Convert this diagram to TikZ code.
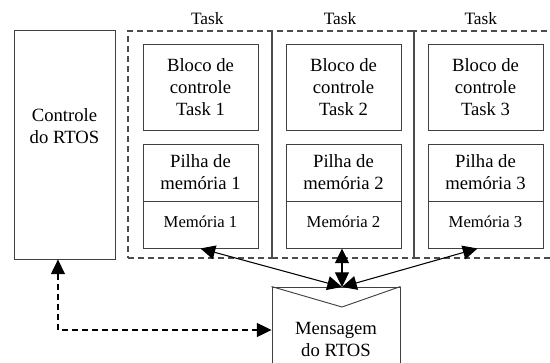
\documentclass[tikz,border=0pt]{standalone}
\usepackage{fontspec}
\setmainfont{LiberationSerif}[Extension=.ttf, UprightFont=*-Regular, BoldFont=*-Bold]
\usetikzlibrary{arrows.meta,calc,positioning}

\tikzset{
  box/.style={draw=black!75, line width=0.7pt, inner sep=0pt, align=center,
    font=\fontsize{14}{16.5}\selectfont},
  taskbox/.style={draw=black!70, dash pattern=on 4.5pt off 3pt, line width=0.8pt,
    minimum height=170.25pt},
  tasklbl/.style={font=\fontsize{13}{15}\selectfont, inner sep=1pt},
  memtxt/.style={font=\fontsize{12.5}{15}\selectfont, text height=9pt, text depth=5pt},
  link/.style={line width=0.8pt, {Triangle[length=11pt,width=10.5pt]}-{Triangle[length=11pt,width=10.5pt]}},
  dlink/.style={link, dash pattern=on 4.5pt off 3pt},
}

\begin{document}
\begin{tikzpicture}[x=0.75pt, y=-0.75pt]
		\path[use as bounding box, clip] (0,0) rectangle (550,362);
		% controle do RTOS
		\node[box, minimum width=75.75pt, minimum height=171.75pt] (ctrl) at (64.5,144.5) {};
		\node[align=center, font=\fontsize{14}{16.5}\selectfont] (ctrltxt) at (64.5,126) {Controle\\do RTOS};
		% tasks
		\node[taskbox, minimum width=108pt] (t1) at (200,144.5) {};
		\node[taskbox, minimum width=106.5pt] (t2) at (343,144.5) {};
		\node[taskbox, minimum width=107.25pt] (t3) at (485.5,144.5) {};
		\node[tasklbl, above=3pt of t1, xshift=5.5pt] (lt1) {Task};
		\node[tasklbl, above=3pt of t2, xshift=-2.25pt] (lt2) {Task};
		\node[tasklbl, above=3pt of t3, xshift=-3.5pt] (lt3) {Task};
		\node[box, minimum width=86.25pt, minimum height=64.5pt] (blk1) at (200.5,87) {Bloco de\\controle\\Task 1};
		\node[box, minimum width=86.25pt, minimum height=64.5pt] (blk2) at (343.5,87) {Bloco de\\controle\\Task 2};
		\node[box, minimum width=86.25pt, minimum height=64.5pt] (blk3) at (485.5,87) {Bloco de\\controle\\Task 3};
		\node[box, minimum width=86.25pt, minimum height=42.75pt] (pil1) at (200.5,172.5) {Pilha de\\mem\'oria 1};
		\node[box, minimum width=86.25pt, minimum height=42.75pt] (pil2) at (343.5,172.5) {Pilha de\\mem\'oria 2};
		\node[box, minimum width=86.25pt, minimum height=42.75pt] (pil3) at (485.5,172.5) {Pilha de\\mem\'oria 3};
		\node[box, memtxt, minimum width=86.25pt, minimum height=35.25pt] (mem1) at (200.5,224.5) {Mem\'oria 1};
		\node[box, memtxt, minimum width=86.25pt, minimum height=35.25pt] (mem2) at (343.5,224.5) {Mem\'oria 2};
		\node[box, memtxt, minimum width=86.25pt, minimum height=35.25pt] (mem3) at (485.5,224.5) {Mem\'oria 3};
		% mensagem
		\node[box, minimum width=96pt, minimum height=78pt] (msg) at (336,339) {Mensagem\\do RTOS};
		\draw[draw=black!75, line width=0.7pt] (msg.north west) -- (342,307) -- (msg.north east);
		\coordinate (hub) at (342,287);
		\draw[link] (mem1.south) -- (hub);
		\draw[link] (mem2.south -| hub) -- (hub);
		\draw[link] ($(mem3.south)+(-8,0)$) -- (hub);
		\draw[dlink] ([xshift=-4.9pt]ctrl.south) |- ([yshift=6.75pt]msg.west);
\end{tikzpicture}
\end{document}
